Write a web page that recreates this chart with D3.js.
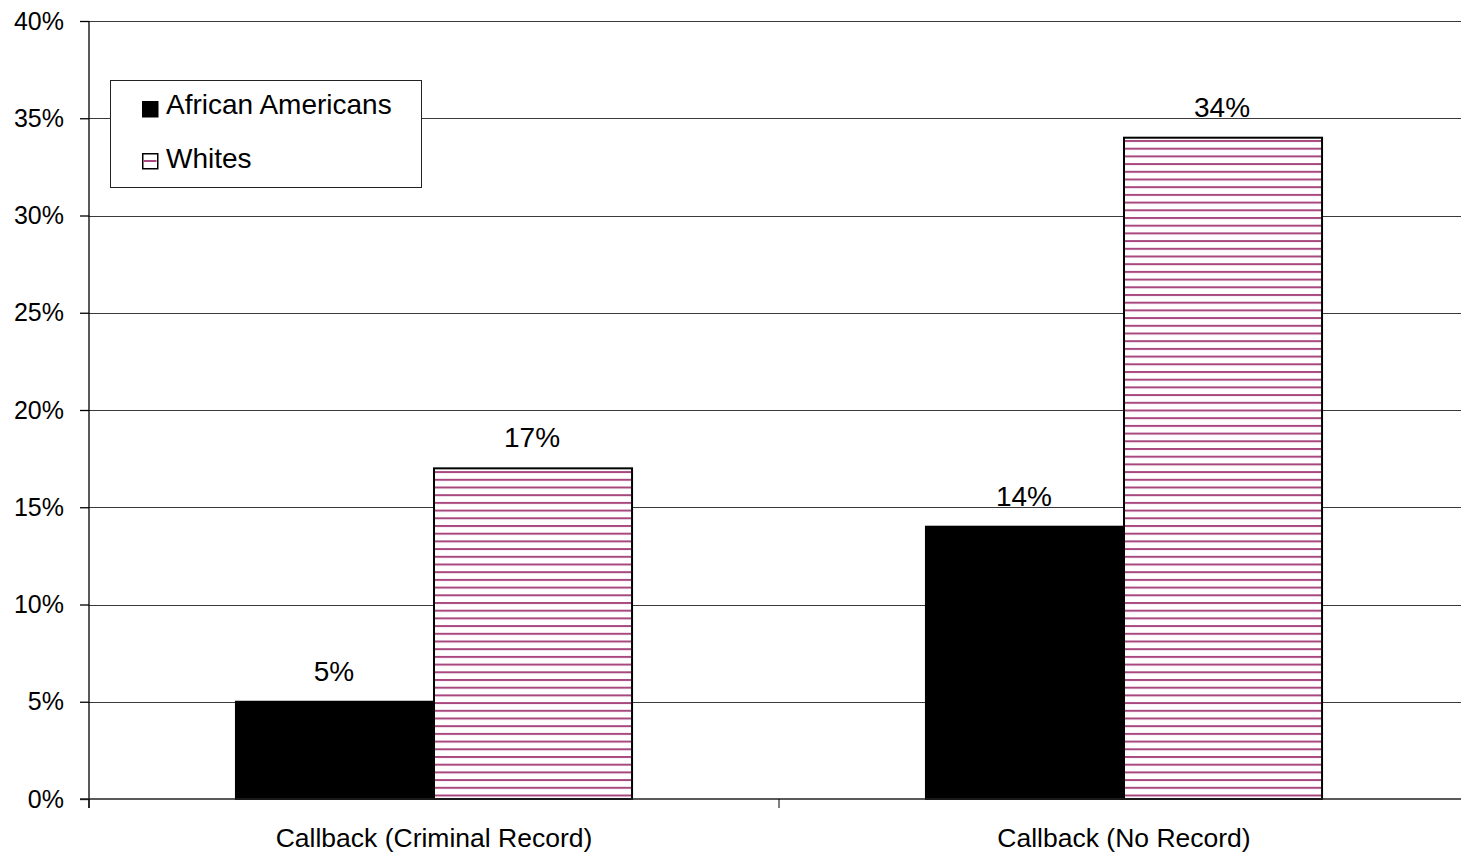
<!DOCTYPE html>
<html>
<head>
<meta charset="utf-8">
<script src="https://cdn.jsdelivr.net/npm/d3@7/dist/d3.min.js"></script>
<style>
  html, body { margin: 0; padding: 0; background: #fff; }
  svg { display: block; font-family: "Liberation Sans", Arial, sans-serif; }
</style>
</head>
<body>
<svg id="chart" width="1461" height="857"></svg>
<script>
const categories = ["Callback (Criminal Record)", "Callback (No Record)"];
const seriesNames = ["African Americans", "Whites"];
const africanAmericans = [0.05, 0.14];
const whites = [0.17, 0.34];
const yTicks = [0, 0.05, 0.10, 0.15, 0.20, 0.25, 0.30, 0.35, 0.40];

(function () {
const seriesValues = [africanAmericans, whites];
const data = categories.map((c, i) => ({
  category: c,
  values: seriesNames.map((s, j) => ({ series: s, value: seriesValues[j][i] }))
}));

const svg = d3.select("#chart");
const mLeft = 89, mRight = 1469, mTop = 21, mBottom = 799;

const defs = svg.append("defs");
const pat = defs.append("pattern")
  .attr("id", "stripes")
  .attr("patternUnits", "userSpaceOnUse")
  .attr("width", 20).attr("height", 7.7)
  .attr("y", 1.4);
pat.append("rect").attr("width", 20).attr("height", 7.7).attr("fill", "#fff");
pat.append("rect").attr("y", 0).attr("width", 20).attr("height", 2).attr("fill", "#a8487f");

const y = d3.scaleLinear().domain([0, 0.4]).range([mBottom, mTop]);
const x0 = d3.scaleBand().domain(categories).range([mLeft, mRight]).padding(0);
const x1 = d3.scaleBand().domain(seriesNames).range([0, x0.bandwidth()])
  .paddingInner(0).paddingOuter(0.742);
const fills = { "African Americans": "#000", "Whites": "url(#stripes)" };

// gridlines
svg.append("g").selectAll("line")
  .data(yTicks.filter(t => t > 0))
  .join("line")
  .attr("x1", mLeft).attr("x2", mRight)
  .attr("y1", d => Math.round(y(d)) + 0.5).attr("y2", d => Math.round(y(d)) + 0.5)
  .attr("stroke", "#3a3a3a").attr("stroke-width", 1);

// bars
const groups = svg.append("g").selectAll("g")
  .data(data).join("g")
  .attr("transform", d => `translate(${x0(d.category)},0)`);

groups.selectAll("rect")
  .data(d => d.values).join("rect")
  .attr("x", d => x1(d.series))
  .attr("y", d => y(d.value))
  .attr("width", x1.bandwidth())
  .attr("height", d => mBottom - y(d.value))
  .attr("fill", d => fills[d.series])
  .attr("stroke", "#000").attr("stroke-width", 2);

groups.selectAll("text")
  .data(d => d.values).join("text")
  .attr("x", d => x1(d.series) + x1.bandwidth() / 2 - 1)
  .attr("y", d => y(d.value) - 21)
  .attr("text-anchor", "middle")
  .attr("font-size", 28)
  .attr("fill", "#000")
  .text(d => d3.format(".0%")(d.value));

// y axis
const yAxis = d3.axisLeft(y).tickValues(yTicks).tickFormat(d3.format(".0%"))
  .tickSize(9).tickPadding(16);
const gy = svg.append("g").attr("transform", `translate(${mLeft},0)`).call(yAxis);
gy.select(".domain").remove();
gy.selectAll(".tick line").attr("stroke", "#000").attr("stroke-width", 1.3);
gy.selectAll(".tick text").attr("font-size", 25).attr("fill", "#000")
  .attr("font-family", "'Liberation Sans', Arial, sans-serif");
svg.append("line").attr("x1", mLeft).attr("x2", mLeft).attr("y1", mTop).attr("y2", mBottom + 9)
  .attr("stroke", "#000").attr("stroke-width", 1.3);

// x axis
svg.append("line").attr("x1", mLeft - 9).attr("x2", mRight).attr("y1", mBottom).attr("y2", mBottom)
  .attr("stroke", "#222").attr("stroke-width", 1.6);
const boundaries = categories.map(c => x0(c)).concat([x0.range()[1]]);
svg.append("g").selectAll("line").data(boundaries).join("line")
  .attr("x1", d => d).attr("x2", d => d)
  .attr("y1", mBottom).attr("y2", mBottom + 9)
  .attr("stroke", "#000").attr("stroke-width", 1);
svg.append("g").selectAll("text").data(categories).join("text")
  .attr("x", d => x0(d) + x0.bandwidth() / 2)
  .attr("y", 847)
  .attr("text-anchor", "middle")
  .attr("font-size", 26.5)
  .attr("fill", "#000")
  .text(d => d);

// legend
const lg = svg.append("g");
lg.append("rect").attr("x", 110.5).attr("y", 80.5).attr("width", 311).attr("height", 107)
  .attr("fill", "#fff").attr("stroke", "#222").attr("stroke-width", 1);
const items = lg.selectAll("g.item").data(seriesNames).join("g")
  .attr("class", "item")
  .attr("transform", (d, i) => `translate(142,${101 + i * 52})`);
items.append("rect").attr("x", 0.75).attr("y", 0.75).attr("width", 15).attr("height", 15)
  .attr("fill", d => d === "Whites" ? "#fff" : "#000")
  .attr("stroke", "#000").attr("stroke-width", 1.5);
items.filter(d => d === "Whites").append("line")
  .attr("x1", 1.5).attr("x2", 14.5).attr("y1", 8).attr("y2", 8)
  .attr("stroke", "#a8487f").attr("stroke-width", 2);
items.append("text").attr("x", 24).attr("y", (d, i) => 13 + i * 2)
  .attr("font-size", 28).attr("fill", "#000")
  .text(d => d);
})();
</script>
</body>
</html>
